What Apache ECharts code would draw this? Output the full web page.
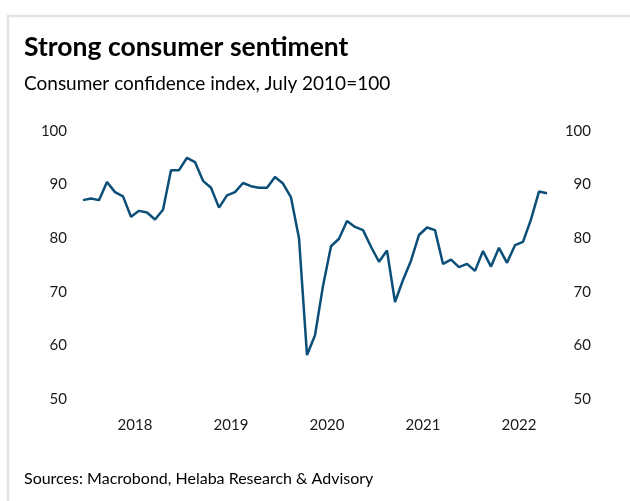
<!DOCTYPE html>
<html>
<head>
<meta charset="utf-8">
<title>Strong consumer sentiment</title>
<script src="https://cdn.jsdelivr.net/npm/echarts@6/dist/echarts.min.js"></script>
<style>
  html, body { margin: 0; padding: 0; background: #fff; }
  #chart { width: 630px; height: 501px; }
</style>
</head>
<body>
<div id="chart"></div>
<script>
// monthly observations, Dec 2017 .. Oct 2022
const months = [
  '2017-12',
  '2018-01', '2018-02', '2018-03', '2018-04', '2018-05', '2018-06', '2018-07', '2018-08', '2018-09', '2018-10', '2018-11', '2018-12',
  '2019-01', '2019-02', '2019-03', '2019-04', '2019-05', '2019-06', '2019-07', '2019-08', '2019-09', '2019-10', '2019-11', '2019-12',
  '2020-01', '2020-02', '2020-03', '2020-04', '2020-05', '2020-06', '2020-07', '2020-08', '2020-09', '2020-10', '2020-11', '2020-12',
  '2021-01', '2021-02', '2021-03', '2021-04', '2021-05', '2021-06', '2021-07', '2021-08', '2021-09', '2021-10', '2021-11', '2021-12',
  '2022-01', '2022-02', '2022-03', '2022-04', '2022-05', '2022-06', '2022-07', '2022-08', '2022-09', '2022-10'
]

const confidence = [
  87.1,
  87.4, 87.1, 90.5, 88.6, 87.8, 84.0, 85.1, 84.8, 83.5, 85.3, 92.7, 92.7,
  95.0, 94.2, 90.7, 89.4, 85.7, 88.0, 88.6, 90.3, 89.7, 89.4, 89.4, 91.4,
  90.2, 87.6, 80.0, 58.2, 61.9, 71.1, 78.5, 79.9, 83.2, 82.1, 81.5, 78.4,
  75.6, 77.7, 68.1, 72.2, 75.8, 80.6, 82.0, 81.5, 75.2, 76.0, 74.6, 75.2,
  73.9, 77.6, 74.7, 78.2, 75.4, 78.7, 79.3, 83.5, 88.7, 88.4
]

const yTicks = { min: 50, max: 100, step: 10 }

const font = 'Lato'
const textColor = '#1a1a1a'

const chart = echarts.init(document.getElementById('chart'))

chart.setOption({
  backgroundColor: '#fff',
  animation: false,
  graphic: [{
    type: 'rect',
    shape: { x: 8, y: 16, width: 700, height: 600 },
    style: { fill: 'none', stroke: '#e4e4e4', lineWidth: 2.5 },
    silent: true
  }],
  title: [{
    text: 'Strong consumer sentiment',
    left: 24,
    top: 34,
    padding: 0,
    textStyle: { fontFamily: font, fontWeight: 'bold', fontSize: 26.5, color: '#000' }
  }, {
    text: 'Consumer confidence index, July 2010=100',
    left: 24,
    top: 74,
    padding: 0,
    textStyle: { fontFamily: font, fontWeight: 'normal', fontSize: 19, color: '#000' }
  }, {
    text: 'Sources: Macrobond, Helaba Research & Advisory',
    left: 24,
    top: 471,
    padding: 0,
    textStyle: { fontFamily: font, fontWeight: 'normal', fontSize: 16, color: '#000' }
  }],
  grid: {
    left: 83,
    right: 83,
    top: 131,
    bottom: 102
  },
  xAxis: {
    type: 'category',
    data: months,
    boundaryGap: false,
    axisLine: { show: false },
    axisTick: { show: false },
    splitLine: { show: false },
    axisLabel: {
      // year label sits in the middle of that year's months
      interval: (index) => index % 12 === 6,
      formatter: (value) => value.slice(0, 4),
      padding: [0, 0, 0, 8],
      margin: 19,
      fontFamily: font,
      fontSize: 15,
      color: textColor
    }
  },
  yAxis: [{
    type: 'value',
    position: 'left',
    min: yTicks.min,
    max: yTicks.max,
    interval: yTicks.step,
    axisLine: { show: false },
    axisTick: { show: false },
    splitLine: { show: false },
    axisLabel: { margin: 16, fontFamily: font, fontSize: 15, color: textColor }
  }, {
    type: 'value',
    position: 'right',
    min: yTicks.min,
    max: yTicks.max,
    interval: yTicks.step,
    axisLine: { show: false },
    axisTick: { show: false },
    splitLine: { show: false },
    axisLabel: { margin: 44, align: 'right', fontFamily: font, fontSize: 15, color: textColor }
  }],
  series: [{
    name: 'Consumer confidence',
    type: 'line',
    yAxisIndex: 0,
    data: confidence,
    showSymbol: false,
    lineStyle: { color: '#0b4f79', width: 2.5 },
    itemStyle: { color: '#0b4f79' }
  }]
})
</script>
</body>
</html>
